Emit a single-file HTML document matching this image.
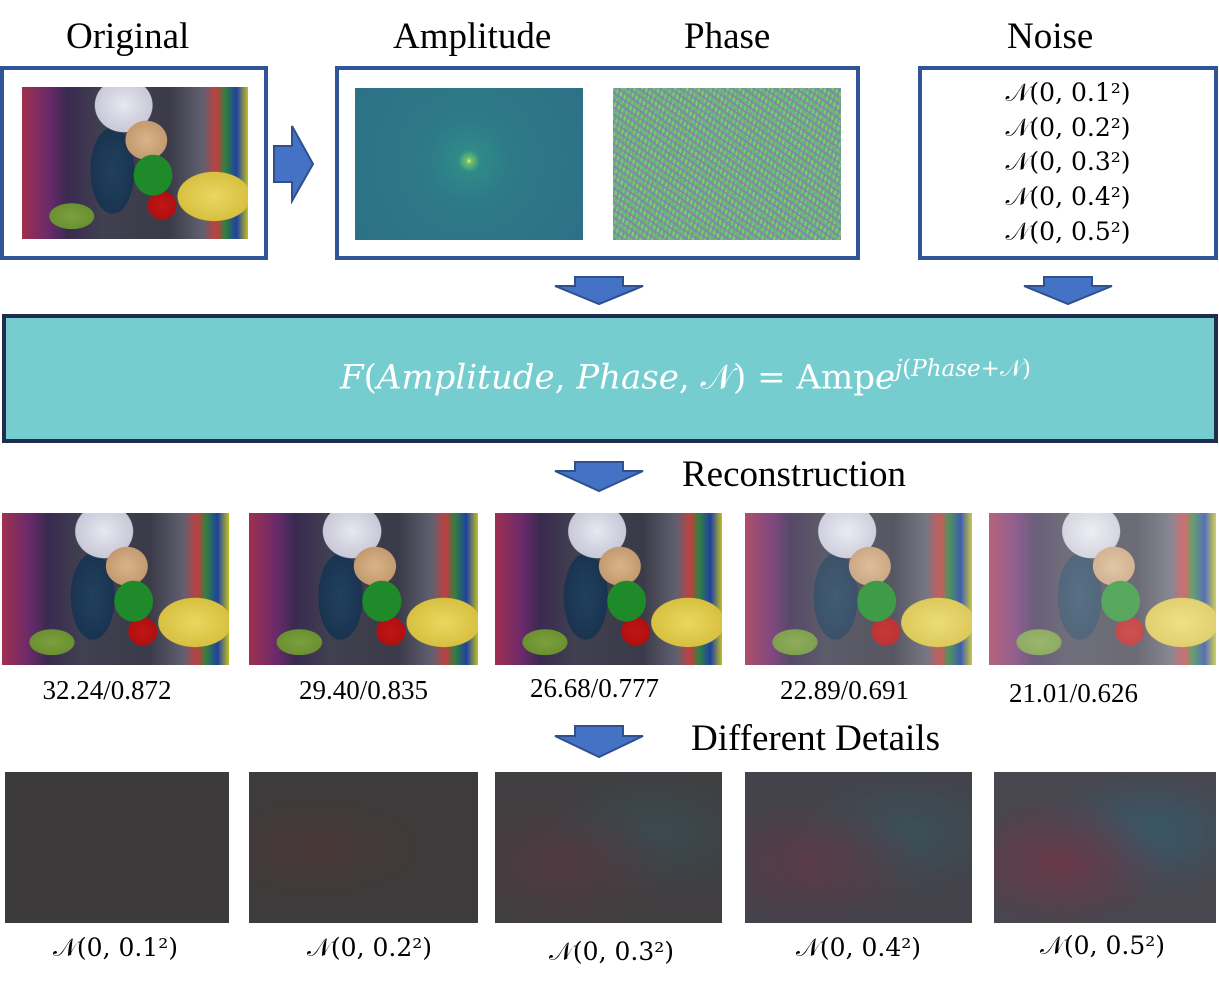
<!DOCTYPE html>
<html><head><meta charset="utf-8">
<style>
body{margin:0;width:1219px;height:981px;background:#fff;position:relative;overflow:hidden;font-family:"Liberation Serif",serif;}
.a{position:absolute;}
.t{position:absolute;font-size:37px;color:#000;white-space:nowrap;}
.box{position:absolute;border:4px solid #2f5597;box-sizing:border-box;background:#fff;}
.lbl{position:absolute;font-size:27px;white-space:nowrap;text-align:center;}
.math{font-family:"DejaVu Serif","Liberation Serif",serif;font-size:25px;}
.scene{background:
radial-gradient(ellipse 14% 22% at 58% 58%,#1f8a2a 0,#1f8a2a 60%,transparent 62%),
radial-gradient(ellipse 9% 13% at 62% 78%,#c01616 0,#b01010 70%,transparent 72%),
radial-gradient(ellipse 13% 18% at 55% 35%,#d8b48a 0,#c49a70 70%,transparent 72%),
radial-gradient(ellipse 18% 25% at 45% 12%,#e8e8f0 0,#c8c8d8 70%,transparent 72%),
radial-gradient(ellipse 12% 35% at 40% 55%,#20405c 0,#1a3450 80%,transparent 82%),
radial-gradient(ellipse 20% 20% at 85% 72%,#e8d860 0,#d8c040 80%,transparent 82%),
radial-gradient(ellipse 14% 12% at 22% 85%,#7aa040 0,#6a9030 70%,transparent 72%),
linear-gradient(90deg,#a03050 0,#6a2a6a 12%,#3a2a50 20%,#404050 35%,#3a3a48 65%,#606070 80%,#c04040 86%,#308040 90%,#2040a0 95%,#c0c020 100%);}
.det{background:#3d3b3b;}
</style></head><body>
<div class="t" style="left:66px;top:15px;">Original</div>
<div class="t" style="left:393px;top:15px;">Amplitude</div>
<div class="t" style="left:684px;top:15px;">Phase</div>
<div class="t" style="left:1007px;top:15px;">Noise</div>

<div class="box" style="left:0;top:66px;width:268px;height:194px;"></div>
<div class="a scene" style="left:22px;top:87px;width:226px;height:152px;"></div>

<svg class="a" style="left:272px;top:124px" width="44" height="80"><polygon points="2,22 20,22 20,2 41,40 20,77 20,58 2,58" fill="#4472c4" stroke="#2f4f8f" stroke-width="2"/></svg>

<div class="box" style="left:335px;top:66px;width:525px;height:194px;"></div>
<div class="a" style="left:355px;top:88px;width:228px;height:152px;background:radial-gradient(circle at 50% 48%,#e8f070 0,#6cc070 2%,#2f8a88 8%,#2e7a88 30%,#2d7086 100%);"></div>
<div class="a" style="left:613px;top:88px;width:228px;height:152px;background:repeating-linear-gradient(35deg,rgba(144,112,192,.7) 0 2px,transparent 2px 6px),repeating-linear-gradient(-60deg,rgba(64,176,160,.7) 0 2px,transparent 2px 5px),repeating-linear-gradient(100deg,rgba(160,208,96,.7) 0 2px,transparent 2px 4px),#70b070;"></div>

<div class="box" style="left:918px;top:66px;width:300px;height:194px;"></div>
<div class="lbl math" style="left:918px;top:78px;width:300px;">𝒩(0, 0.1²)</div>
<div class="lbl math" style="left:918px;top:113px;width:300px;">𝒩(0, 0.2²)</div>
<div class="lbl math" style="left:918px;top:147px;width:300px;">𝒩(0, 0.3²)</div>
<div class="lbl math" style="left:918px;top:182px;width:300px;">𝒩(0, 0.4²)</div>
<div class="lbl math" style="left:918px;top:217px;width:300px;">𝒩(0, 0.5²)</div>

<svg class="a" style="left:553px;top:276px" width="92" height="30"><polygon points="22,1 70,1 70,10 90,10 46,28 2,10 22,10" fill="#4472c4" stroke="#2f4f8f" stroke-width="2"/></svg>
<svg class="a" style="left:1022px;top:276px" width="92" height="30"><polygon points="22,1 70,1 70,10 90,10 46,28 2,10 22,10" fill="#4472c4" stroke="#2f4f8f" stroke-width="2"/></svg>

<div class="a" style="left:2px;top:314px;width:1216px;height:129px;box-sizing:border-box;border:4px solid #1f2d4f;background:#76cdd0;"></div>
<div class="a" style="left:340px;top:356px;white-space:nowrap;color:#fff;font-size:34px;font-family:'DejaVu Serif',serif;"><i>F</i>(<i>Amplitude</i>, <i>Phase</i>, 𝒩) = Amp<i>e</i><sup style="font-size:23px"><i>j</i>(<i>Phase</i>+𝒩)</sup></div>

<svg class="a" style="left:553px;top:461px" width="92" height="32"><polygon points="22,1 70,1 70,10 90,10 46,30 2,10 22,10" fill="#4472c4" stroke="#2f4f8f" stroke-width="2"/></svg>
<div class="t" style="left:682px;top:453px;">Reconstruction</div>

<div class="a scene" style="left:2px;top:513px;width:227px;height:152px;"></div>
<div class="a scene" style="left:249px;top:513px;width:229px;height:152px;"></div>
<div class="a scene" style="left:495px;top:513px;width:227px;height:152px;"></div>
<div class="a scene" style="left:745px;top:513px;width:227px;height:152px;opacity:0.85;"></div>
<div class="a scene" style="left:989px;top:513px;width:227px;height:152px;opacity:0.75;"></div>

<div class="lbl" style="left:2px;top:675px;width:210px;">32.24/0.872</div>
<div class="lbl" style="left:249px;top:675px;width:229px;">29.40/0.835</div>
<div class="lbl" style="left:480px;top:673px;width:229px;">26.68/0.777</div>
<div class="lbl" style="left:730px;top:675px;width:229px;">22.89/0.691</div>
<div class="lbl" style="left:959px;top:678px;width:229px;">21.01/0.626</div>

<svg class="a" style="left:553px;top:725px" width="92" height="34"><polygon points="22,1 70,1 70,11 90,11 46,32 2,11 22,11" fill="#4472c4" stroke="#2f4f8f" stroke-width="2"/></svg>
<div class="t" style="left:691px;top:717px;">Different Details</div>

<div class="a det" style="left:5px;top:772px;width:224px;height:151px;background:#3c3a3a;"></div>
<div class="a det" style="left:249px;top:772px;width:229px;height:151px;background:radial-gradient(ellipse at 30% 50%,#4a3838,transparent 50%),#3d3b3b;"></div>
<div class="a det" style="left:495px;top:772px;width:227px;height:151px;background:radial-gradient(ellipse at 30% 60%,#503a40,transparent 50%),radial-gradient(ellipse at 70% 40%,#3a4a50,transparent 50%),#403e40;"></div>
<div class="a det" style="left:745px;top:772px;width:227px;height:151px;background:radial-gradient(ellipse at 30% 60%,#5a3a48,transparent 50%),radial-gradient(ellipse at 70% 40%,#3a5058,transparent 50%),#44424a;"></div>
<div class="a det" style="left:994px;top:772px;width:222px;height:151px;background:radial-gradient(ellipse at 30% 60%,#683848,transparent 50%),radial-gradient(ellipse at 70% 40%,#385868,transparent 50%),#48464e;"></div>

<div class="lbl math" style="left:2px;top:933px;width:227px;">𝒩(0, 0.1²)</div>
<div class="lbl math" style="left:255px;top:933px;width:229px;">𝒩(0, 0.2²)</div>
<div class="lbl math" style="left:498px;top:937px;width:227px;">𝒩(0, 0.3²)</div>
<div class="lbl math" style="left:745px;top:933px;width:227px;">𝒩(0, 0.4²)</div>
<div class="lbl math" style="left:989px;top:931px;width:227px;">𝒩(0, 0.5²)</div>
</body></html>
